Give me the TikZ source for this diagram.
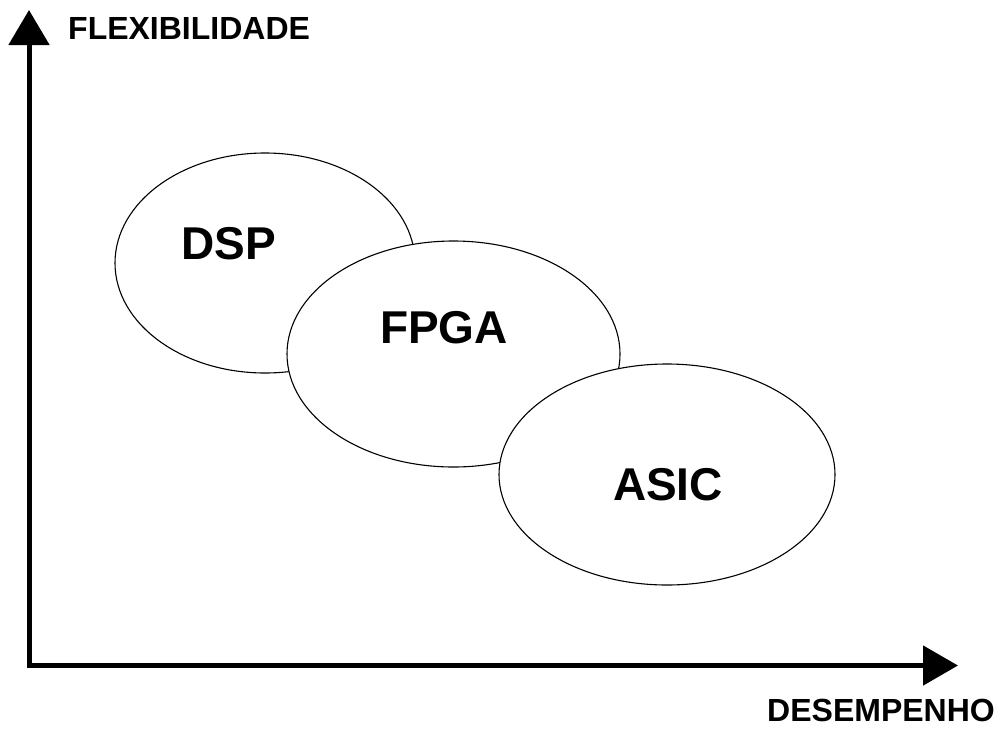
\documentclass[tikz,border=0pt]{standalone}
\usepackage{fontspec}
\setmainfont{Liberation Sans}
\usetikzlibrary{arrows.meta,shapes.geometric}

\tikzset{
  axis/.style={line width=5pt, line join=miter, {Triangle[length=35pt,width=40pt]}-{Triangle[length=35pt,width=39pt]}},
  region/.style={draw, ellipse, fill=white, line width=1.1pt, inner sep=0pt},
  axislabel/.style={font=\fontsize{32}{38}\selectfont\bfseries, inner sep=0pt},
  tech/.style={font=\fontsize{46}{54}\selectfont\bfseries, inner sep=0pt}
}

\begin{document}
\begin{tikzpicture}[x=1pt,y=-1pt]
\useasboundingbox (0,0) rectangle (1006,729);
%\draw (0,0) to[grid with coordinates] (1006,729);
\coordinate (o) at (29,665.5);
\coordinate (ytop) at (29,10);
\coordinate (xend) at (958,665.5);
\draw[axis] (ytop) -- (o) -- (xend);
\node[axislabel, anchor=base west] (flex) at (68,39) {FLEXIBILIDADE};
\node[axislabel, anchor=base] (desemp) at (881,721) {DESEMPENHO};
% regioes (a de cima tapa a de baixo)
\node[region, minimum width=300pt, minimum height=220pt] (dsp) at (265,263) {};
\node[region, minimum width=333pt, minimum height=226pt] (fpga) at (453.5,354) {};
\node[region, minimum width=336pt, minimum height=221pt] (asic) at (667,474.5) {};
\node[tech, anchor=base] (dsplbl) at (229,259) {DSP};
\node[tech, anchor=base] (fpgalbl) at (444,343) {FPGA};
\node[tech, anchor=base] (asiclbl) at (668,500) {ASIC};
\end{tikzpicture}
\end{document}
